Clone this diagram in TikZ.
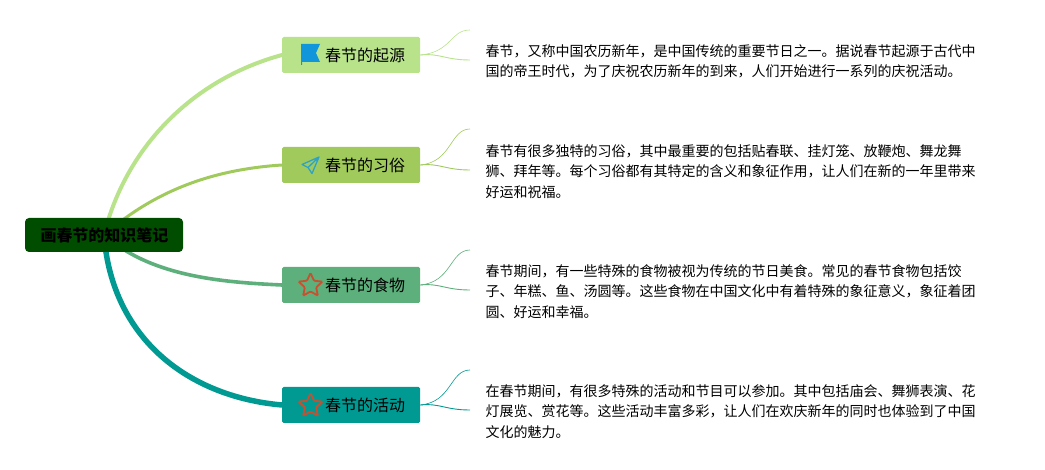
\documentclass[tikz,border=0pt]{standalone}
\usepackage{fontspec}
\setmainfont{Noto Sans CJK SC}
\usetikzlibrary{backgrounds,shapes.geometric}
\definecolor{cA}{HTML}{B8E38B}
\definecolor{cB}{HTML}{A0CB5C}
\definecolor{cC}{HTML}{5DAF7B}
\definecolor{cD}{HTML}{009A93}
\definecolor{rootc}{HTML}{004D00}
\definecolor{flagc}{HTML}{1296DB}
\definecolor{planec}{HTML}{2FA3C7}
\definecolor{starc}{HTML}{C9502F}
\tikzset{
  x=1pt,y=-1pt,
  rootbox/.style={draw=none,fill=rootc,rounded corners=4pt,minimum width=158pt,minimum height=34pt,inner sep=0pt},
  rootlabel/.style={font=\fontsize{16}{18}\selectfont\bfseries,text=black,inner sep=0pt},
  topicbox/.style={draw=none,rounded corners=1.5pt,minimum width=138pt,minimum height=36pt,inner sep=0pt},
  topiclabel/.style={font=\fontsize{16}{18}\selectfont,text=black,inner sep=0pt},
  bodytext/.style={font=\fontsize{14}{20.4}\selectfont,text=black,align=left,anchor=west,inner sep=0pt},
  trunk/.style={line cap=round},
  twig/.style={line width=.6pt},
  staricon/.style={star,star points=5,star point ratio=2.1,draw=starc,line width=1.8pt,rounded corners=1pt,minimum size=25pt,inner sep=0pt},
}
\begin{document}
\begin{tikzpicture}
\useasboundingbox (0,0) rectangle (1045,470);
\node[rootbox] (root) at (104,235) {};
\node[rootlabel] (rootl) at (104.5,235) {画春节的知识笔记};
\node[topicbox,fill=cA] (b1) at (351.2,55) {};
\node[topicbox,fill=cB] (b2) at (351.2,165) {};
\node[topicbox,fill=cC] (b3) at (351.2,285) {};
\node[topicbox,fill=cD] (b4) at (351.2,405) {};
\node[topiclabel] (l1) at (365,55.5) {春节的起源};
\node[topiclabel] (l2) at (365,165.5) {春节的习俗};
\node[topiclabel] (l3) at (365,285.5) {春节的食物};
\node[topiclabel] (l4) at (365,405.5) {春节的活动};
\node[staricon] (s3) at (310.5,285.5) {};
\node[staricon] (s4) at (310.5,405.5) {};
\fill[flagc] (301,44) -- (320,44) -- (316,53) -- (320,62) -- (302,62) -- (302,65) -- (301,65) -- cycle;
\draw[planec,line width=1.3pt,line join=round] (319,157) -- (302,164.5) -- (308,167.5) -- (312,173.5) -- cycle (308,167.5) -- (319,157);
\coordinate (u1) at (470,30);
\coordinate (d1) at (470,60);
\coordinate (u2) at (470,129);
\coordinate (d2) at (470,170);
\coordinate (u3) at (470,250);
\coordinate (d3) at (470,290);
\coordinate (u4) at (470,370);
\coordinate (d4) at (470,410);
\node[bodytext] (t1) at (485.5,61.5) {春节，又称中国农历新年，是中国传统的重要节日之一。据说春节起源于古代中\\国的帝王时代，为了庆祝农历新年的到来，人们开始进行一系列的庆祝活动。};
\node[bodytext] (t2) at (485.5,171.5) {春节有很多独特的习俗，其中最重要的包括贴春联、挂灯笼、放鞭炮、舞龙舞\\狮、拜年等。每个习俗都有其特定的含义和象征作用，让人们在新的一年里带来\\好运和祝福。};
\node[bodytext] (t3) at (485.5,291.5) {春节期间，有一些特殊的食物被视为传统的节日美食。常见的春节食物包括饺\\子、年糕、鱼、汤圆等。这些食物在中国文化中有着特殊的象征意义，象征着团\\圆、好运和幸福。};
\node[bodytext] (t4) at (485.5,411.5) {在春节期间，有很多特殊的活动和节目可以参加。其中包括庙会、舞狮表演、花\\灯展览、赏花等。这些活动丰富多彩，让人们在欢庆新年的同时也体验到了中国\\文化的魅力。};
\begin{pgfonlayer}{background}
\draw[trunk,cA,line width=4pt] (root.center) .. controls (125,150) and (190,80) .. (b1.west);
\draw[trunk,cB,line width=3pt] (root.center) .. controls (150,195) and (205,170) .. (b2.west);
\draw[trunk,cC,line width=3.6pt] (root.center) .. controls (150,275) and (215,282) .. (b3.west);
\draw[trunk,cD,line width=5.5pt] (root.center) .. controls (112,340) and (190,397) .. (b4.west);
\foreach \i/\c in {1/cA,2/cB,3/cC,4/cD}{
  \draw[twig,\c] (b\i.east) .. controls (452,\ifcase\i\or 52\or 162\or 282\or 402\fi) and (450,\ifcase\i\or 30\or 129\or 250\or 370\fi) .. (u\i);
  \draw[twig,\c,line width=.9pt] (b\i.east) .. controls (440,\ifcase\i\or 53\or 163\or 283\or 403\fi) and (445,\ifcase\i\or 60\or 170\or 290\or 410\fi) .. (d\i);
}
\end{pgfonlayer}
\end{tikzpicture}
\end{document}
